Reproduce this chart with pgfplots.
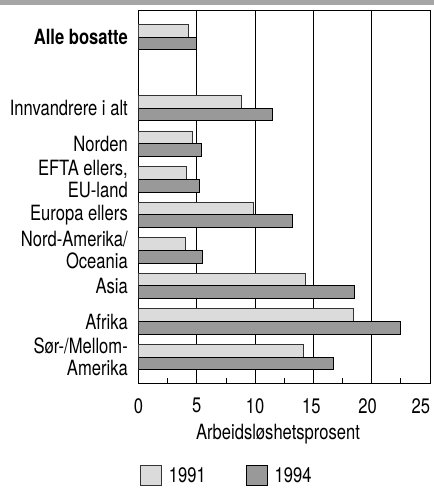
\documentclass[border=0pt]{standalone}
\usepackage{fontspec}
\setmainfont{TeX Gyre Heros}[FakeStretch=0.79]
\usepackage{pgfplots}
\pgfplotsset{compat=1.18}
\newcommand{\chfont}{\fontsize{21bp}{22bp}\selectfont}
\begin{document}
\begin{tikzpicture}[font=\chfont]
\path[use as bounding box] (0,0) rectangle (434bp,489bp);
\fill[black!35] (0,484bp) rectangle (434bp,489bp);
\begin{axis}[
  at={(138.5bp,106bp)}, anchor=south west,
  scale only axis, width=291.5bp, height=373bp,
  xmin=0, xmax=25, ymin=-0.76, ymax=9.73,
  y dir=reverse,
  xtick={0,5,...,25},
  xticklabels={0,5,10,{\makebox[0pt][c]{\hspace*{-4bp}15}},{\makebox[0pt][c]{\hspace*{-8bp}20}},{\makebox[0pt][r]{25}}},
  minor xtick={2.5,7.5,...,22.5},
  xtick pos=bottom, tick align=inside,
  major tick length=0pt, minor tick length=5bp,
  xmajorgrids,
  major grid style={black, line width=0.8bp},
  minor tick style={black, line width=0.8bp},
  ytick={0,2,3,4,5,6,7,8,9},
  yticklabels={\textbf{Alle bosatte}, Innvandrere i alt, Norden, {EFTA ellers,\\EU-land}, Europa ellers, {Nord-Amerika/\\Oceania}, Asia, Afrika, {Sør-/Mellom-\\Amerika}},
  yticklabel style={align=right, anchor=east, inner sep=0pt, xshift=-10.5bp, font=\chfont},
  ytick style={draw=none},
  xticklabel style={anchor=north, inner sep=0pt, yshift=-15bp, font=\chfont},
  /pgf/number format/assume math mode=true,
  xlabel={Arbeidsløshetsprosent},
  xlabel style={at={(axis description cs:0.4786,0)}, anchor=base, yshift=-56.5bp, inner sep=0pt, font=\chfont},
  axis line style={black, line width=0.9bp},
  xbar, bar width=0.36,
  legend columns=2,
  legend style={draw=none, fill=none, at={(0.005,-0.22)}, anchor=north west, inner sep=0pt, font=\chfont,
    nodes={inner xsep=7bp, inner ysep=0pt},
    /tikz/every even column/.append style={column sep=33bp}},
  legend image code/.code={\draw[#1] (0bp,-10bp) rectangle (21bp,10bp);},
]
\addplot[fill=black!14, draw=black!80, line width=0.7bp, bar shift=-0.18] coordinates {
 (4.3,0) (8.85,2) (4.65,3) (4.13,4) (9.85,5) (4.05,6) (14.3,7) (18.4,8) (14.1,9)};
\addplot[fill=black!40, draw=black, line width=0.9bp, bar shift=0.18] coordinates {
 (5.0,0) (11.5,2) (5.36,3) (5.2,4) (13.2,5) (5.47,6) (18.5,7) (22.5,8) (16.7,9)};
\legend{1991,1994}
\end{axis}
\end{tikzpicture}
\end{document}
